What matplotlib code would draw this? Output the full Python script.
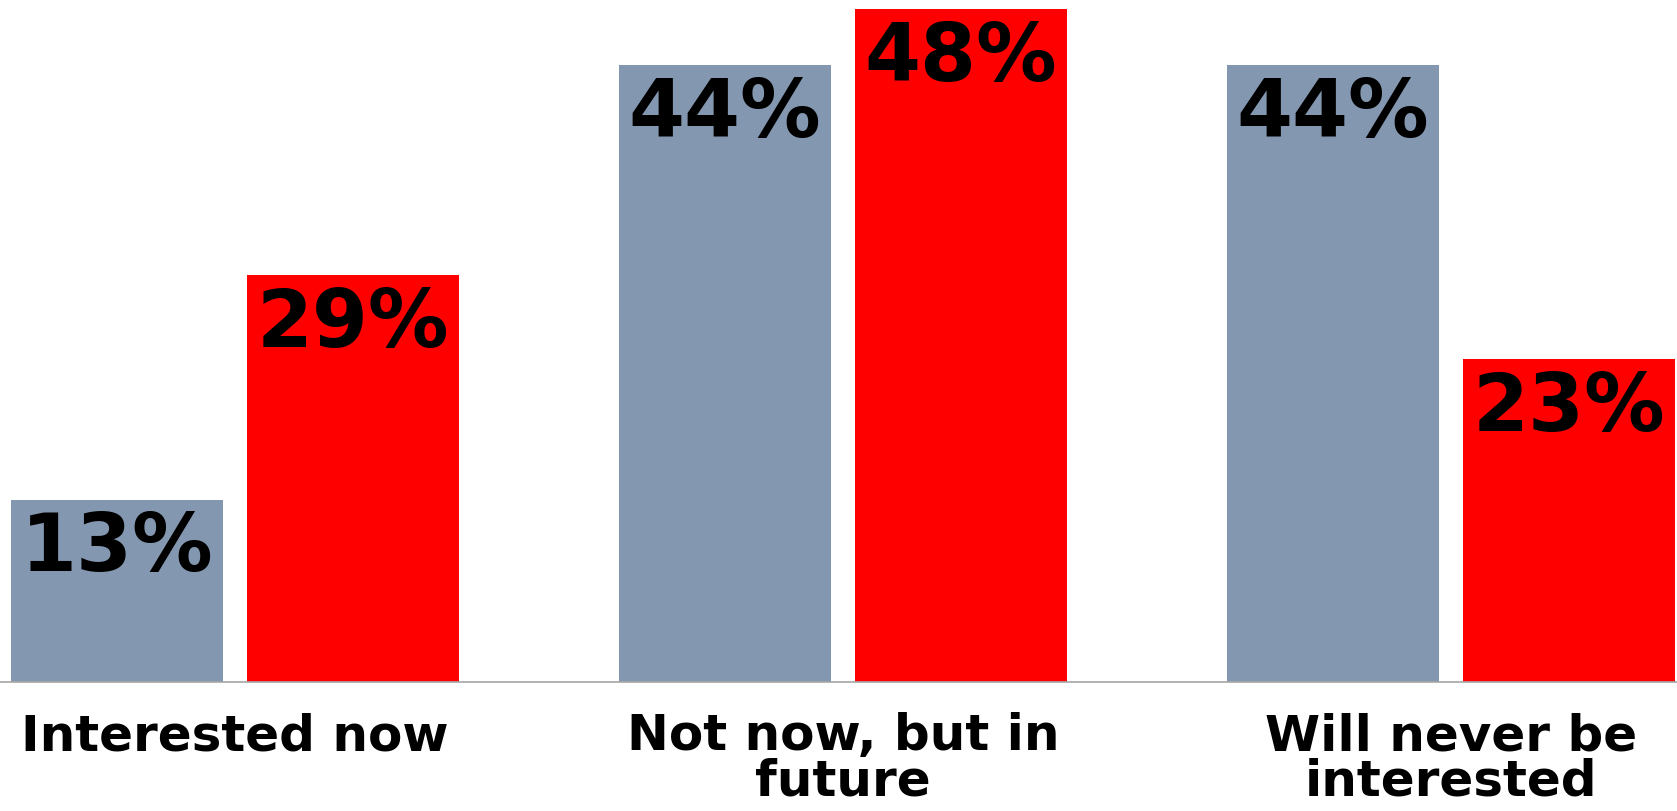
import matplotlib
matplotlib.use("Agg")
import matplotlib.pyplot as plt
import numpy as np

categories = ["Interested now", "Not now, but in\nfuture", "Will never be\ninterested"]
gray_values = [13, 44, 44]
red_values = [29, 48, 23]

fig = plt.figure(figsize=(16.77, 8.12), dpi=100)
ax = fig.add_axes([0, 0.1589, 1, 0.8411])

x = np.arange(len(categories))
w = 0.349
off = 0.194

b1 = ax.bar(x - off, gray_values, w, color="#8497B0")
b2 = ax.bar(x + off, red_values, w, color="#FF0000")

for bars, vals in [(b1, gray_values), (b2, red_values)]:
    for b, v in zip(bars, vals):
        ax.annotate(f"{v}%", (b.get_x() + b.get_width() / 2, v),
                    xytext=(0, -7), textcoords="offset points",
                    ha="center", va="top", fontsize=58, fontweight="bold",
                    family="DejaVu Sans", color="black")

ax.set_xlim(-0.3865, 2.3717)
ax.set_ylim(0, 48.7)
ax.set_xticks(x)
ax.set_xticklabels(categories, fontsize=36, fontweight="bold", family="DejaVu Sans",
                   linespacing=0.92)
ax.tick_params(axis="x", length=0, pad=21)
ax.set_yticks([])
for s in ["top", "left", "right"]:
    ax.spines[s].set_visible(False)
ax.spines["bottom"].set_color("#A6A6A6")
ax.spines["bottom"].set_linewidth(1.2)

fig.savefig("out.png", dpi=100)
